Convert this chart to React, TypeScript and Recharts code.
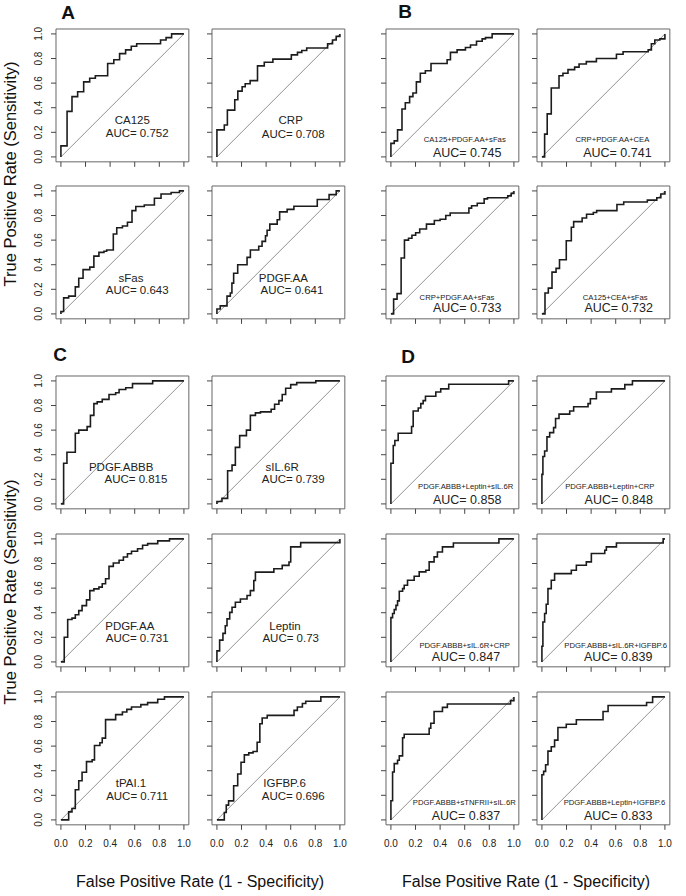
import React from 'react'
import {
  LineChart,
  Line,
  XAxis,
  YAxis,
  ReferenceLine,
  ReferenceArea,
  ReferenceDot
} from 'recharts'

type Pt = [number, number]

// ROC corners: [fpr, tpr reached at that fpr]
const rocCA125: Pt[] = [[0, 0], [0, 0.09], [0.05, 0.37], [0.09, 0.49], [0.136, 0.53], [0.185, 0.61], [0.234, 0.64], [0.28, 0.66], [0.38, 0.76], [0.43, 0.79], [0.477, 0.84], [0.526, 0.87], [0.572, 0.9], [0.616, 0.92], [0.81, 0.95], [0.855, 0.97], [0.9, 1], [1, 1]]
const rocCRP: Pt[] = [[0, 0], [0, 0.22], [0.06, 0.26], [0.085, 0.38], [0.145, 0.465], [0.17, 0.535], [0.205, 0.57], [0.23, 0.595], [0.27, 0.62], [0.33, 0.74], [0.385, 0.77], [0.455, 0.795], [0.605, 0.83], [0.655, 0.85], [0.69, 0.865], [0.73, 0.885], [0.9, 0.92], [0.94, 0.95], [0.97, 0.98], [1, 1]]
const rocSFas: Pt[] = [[0, 0], [0, 0.02], [0.022, 0.13], [0.063, 0.145], [0.117, 0.22], [0.145, 0.29], [0.18, 0.36], [0.235, 0.38], [0.268, 0.47], [0.309, 0.5], [0.35, 0.51], [0.372, 0.52], [0.426, 0.65], [0.454, 0.7], [0.5, 0.715], [0.541, 0.745], [0.578, 0.84], [0.609, 0.873], [0.678, 0.886], [0.76, 0.94], [0.814, 0.975], [0.896, 0.987], [0.964, 1], [1, 1]]
const rocPdgfAA_A: Pt[] = [[0, 0], [0, 0.04], [0.027, 0.065], [0.082, 0.145], [0.109, 0.17], [0.122, 0.25], [0.136, 0.33], [0.169, 0.4], [0.245, 0.46], [0.272, 0.52], [0.34, 0.55], [0.367, 0.59], [0.395, 0.635], [0.408, 0.68], [0.43, 0.73], [0.49, 0.765], [0.51, 0.83], [0.571, 0.85], [0.626, 0.875], [0.816, 0.93], [0.912, 0.97], [0.97, 1], [1, 1]]

const rocB1: Pt[] = [[0, 0], [0, 0.11], [0.027, 0.13], [0.054, 0.22], [0.09, 0.39], [0.117, 0.44], [0.152, 0.49], [0.179, 0.52], [0.207, 0.61], [0.239, 0.68], [0.28, 0.7], [0.326, 0.76], [0.457, 0.79], [0.484, 0.85], [0.538, 0.87], [0.606, 0.89], [0.647, 0.91], [0.696, 0.94], [0.742, 0.96], [0.769, 0.97], [0.823, 1], [1, 1]]
const rocB2: Pt[] = [[0, 0], [0.022, 0.185], [0.043, 0.35], [0.076, 0.56], [0.139, 0.66], [0.171, 0.68], [0.212, 0.71], [0.266, 0.73], [0.302, 0.755], [0.361, 0.775], [0.443, 0.8], [0.606, 0.835], [0.66, 0.855], [0.864, 0.87], [0.89, 0.92], [0.918, 0.95], [0.959, 0.96], [1, 1]]
const rocB3: Pt[] = [[0, 0], [0.022, 0.12], [0.05, 0.165], [0.083, 0.455], [0.11, 0.6], [0.143, 0.615], [0.171, 0.64], [0.201, 0.66], [0.234, 0.69], [0.289, 0.73], [0.353, 0.76], [0.4, 0.77], [0.446, 0.8], [0.482, 0.82], [0.634, 0.86], [0.656, 0.88], [0.702, 0.9], [0.758, 0.935], [0.785, 0.945], [0.95, 0.96], [0.978, 0.98], [1, 1]]
const rocB4: Pt[] = [[0, 0], [0.025, 0.17], [0.052, 0.21], [0.082, 0.34], [0.115, 0.37], [0.143, 0.44], [0.198, 0.595], [0.239, 0.705], [0.258, 0.75], [0.327, 0.78], [0.363, 0.81], [0.418, 0.825], [0.445, 0.84], [0.61, 0.89], [0.665, 0.91], [0.857, 0.925], [0.934, 0.945], [0.967, 0.975], [1, 1]]

const rocPdgfABBB: Pt[] = [[0, 0], [0.022, 0.33], [0.049, 0.42], [0.117, 0.574], [0.145, 0.6], [0.213, 0.628], [0.24, 0.72], [0.268, 0.815], [0.295, 0.83], [0.336, 0.85], [0.391, 0.89], [0.445, 0.904], [0.473, 0.93], [0.527, 0.945], [0.582, 0.978], [0.746, 1], [1, 1]]
const rocSIL6R: Pt[] = [[0, 0], [0, 0.02], [0.041, 0.045], [0.087, 0.27], [0.123, 0.315], [0.15, 0.46], [0.185, 0.555], [0.24, 0.6], [0.272, 0.72], [0.313, 0.74], [0.354, 0.748], [0.441, 0.77], [0.469, 0.81], [0.504, 0.84], [0.531, 0.89], [0.559, 0.94], [0.6, 0.97], [0.649, 0.986], [0.804, 1], [1, 1]]
const rocPdgfAA_C: Pt[] = [[0, 0], [0.027, 0.2], [0.055, 0.345], [0.09, 0.356], [0.117, 0.384], [0.145, 0.417], [0.172, 0.458], [0.208, 0.504], [0.235, 0.58], [0.268, 0.594], [0.309, 0.608], [0.336, 0.635], [0.363, 0.676], [0.391, 0.777], [0.426, 0.804], [0.473, 0.826], [0.508, 0.853], [0.541, 0.88], [0.574, 0.9], [0.623, 0.92], [0.664, 0.948], [0.705, 0.962], [0.787, 0.984], [0.883, 1], [1, 1]]
const rocLeptin: Pt[] = [[0, 0], [0, 0.09], [0.022, 0.177], [0.049, 0.232], [0.068, 0.294], [0.082, 0.35], [0.104, 0.403], [0.123, 0.444], [0.15, 0.485], [0.191, 0.512], [0.245, 0.54], [0.272, 0.58], [0.3, 0.662], [0.313, 0.73], [0.463, 0.757], [0.531, 0.785], [0.586, 0.812], [0.6, 0.935], [0.681, 0.97], [1, 1]]
const rocTPAI1: Pt[] = [[0, 0], [0.063, 0.065], [0.09, 0.093], [0.117, 0.245], [0.145, 0.319], [0.172, 0.387], [0.208, 0.474], [0.254, 0.488], [0.273, 0.605], [0.317, 0.627], [0.336, 0.665], [0.363, 0.815], [0.445, 0.856], [0.5, 0.877], [0.536, 0.899], [0.574, 0.918], [0.65, 0.937], [0.705, 0.954], [0.787, 0.981], [0.842, 1], [1, 1]]
const rocIGFBP6: Pt[] = [[0, 0], [0.06, 0.06], [0.076, 0.12], [0.095, 0.155], [0.136, 0.278], [0.169, 0.373], [0.196, 0.469], [0.223, 0.529], [0.259, 0.545], [0.294, 0.556], [0.327, 0.632], [0.349, 0.782], [0.368, 0.828], [0.409, 0.85], [0.627, 0.891], [0.654, 0.918], [0.695, 0.946], [0.722, 0.965], [0.845, 1], [1, 1]]

const rocD1: Pt[] = [[0, 0], [0, 0.33], [0.019, 0.475], [0.032, 0.515], [0.059, 0.575], [0.168, 0.63], [0.181, 0.755], [0.222, 0.78], [0.243, 0.815], [0.262, 0.84], [0.281, 0.875], [0.365, 0.91], [0.405, 0.935], [0.47, 0.973], [0.957, 1], [1, 1]]
const rocD2: Pt[] = [[0, 0], [0, 0.24], [0.008, 0.385], [0.022, 0.43], [0.041, 0.545], [0.063, 0.58], [0.095, 0.62], [0.111, 0.695], [0.139, 0.73], [0.226, 0.755], [0.258, 0.79], [0.375, 0.815], [0.394, 0.855], [0.443, 0.91], [0.565, 0.935], [0.674, 0.97], [0.736, 1], [1, 1]]
const rocD3: Pt[] = [[0, 0], [0, 0.36], [0.0135, 0.393], [0.027, 0.425], [0.041, 0.46], [0.054, 0.496], [0.068, 0.575], [0.095, 0.596], [0.108, 0.623], [0.135, 0.664], [0.189, 0.696], [0.23, 0.732], [0.284, 0.745], [0.311, 0.813], [0.351, 0.854], [0.378, 0.894], [0.419, 0.935], [0.508, 0.967], [0.878, 1], [1, 1]]
const rocD4: Pt[] = [[0, 0], [0, 0.127], [0.008, 0.325], [0.022, 0.393], [0.035, 0.469], [0.049, 0.596], [0.076, 0.664], [0.103, 0.718], [0.239, 0.745], [0.28, 0.786], [0.361, 0.813], [0.402, 0.881], [0.511, 0.908], [0.524, 0.935], [0.606, 0.967], [0.986, 1], [1, 1]]
const rocD5: Pt[] = [[0, 0], [0, 0.156], [0.0135, 0.389], [0.027, 0.458], [0.054, 0.485], [0.068, 0.521], [0.095, 0.668], [0.108, 0.696], [0.311, 0.745], [0.324, 0.786], [0.351, 0.882], [0.419, 0.915], [0.459, 0.942], [0.973, 0.97], [1, 1]]
const rocD6: Pt[] = [[0, 0], [0, 0.367], [0.014, 0.395], [0.03, 0.449], [0.049, 0.559], [0.076, 0.595], [0.103, 0.649], [0.13, 0.751], [0.198, 0.778], [0.28, 0.814], [0.497, 0.882], [0.538, 0.93], [0.851, 0.955], [0.9, 1], [1, 1]]

const TICKS = [0, 0.2, 0.4, 0.6, 0.8, 1]
const FONT = '"Liberation Sans", Arial, Helvetica, sans-serif'

// geometry of one small plot
const UNIT = 123
const PAD = 0.04
const BOX = UNIT * (1 + 2 * PAD)
const Y_W = 30
const X_H = 26
const TOP = 2
const RIGHT = 2

// pixel where fpr=0 / tpr=1 sits for each column and row
const COL_X = [61, 217, 391, 542]
const ROW_Y = [34, 191, 381, 539, 697]

interface PlotSpec {
  name: string
  auc: string
  roc: Pt[]
  col: number
  row: number
  namePos: Pt
  aucPos: Pt
  combo?: boolean
}

const plots: PlotSpec[] = [
  { name: 'CA125', auc: '0.752', roc: rocCA125, col: 0, row: 0, namePos: [0.58, 0.3], aucPos: [0.62, 0.195] },
  { name: 'CRP', auc: '0.708', roc: rocCRP, col: 1, row: 0, namePos: [0.6, 0.3], aucPos: [0.62, 0.19] },
  { name: 'sFas', auc: '0.643', roc: rocSFas, col: 0, row: 1, namePos: [0.57, 0.29], aucPos: [0.62, 0.195] },
  { name: 'PDGF.AA', auc: '0.641', roc: rocPdgfAA_A, col: 1, row: 1, namePos: [0.54, 0.29], aucPos: [0.61, 0.195] },

  { name: 'CA125+PDGF.AA+sFas', auc: '0.745', roc: rocB1, col: 2, row: 0, namePos: [0.6, 0.145], aucPos: [0.62, 0.035], combo: true },
  { name: 'CRP+PDGF.AA+CEA', auc: '0.741', roc: rocB2, col: 3, row: 0, namePos: [0.573, 0.145], aucPos: [0.614, 0.035], combo: true },
  { name: 'CRP+PDGF.AA+sFas', auc: '0.733', roc: rocB3, col: 2, row: 1, namePos: [0.537, 0.132], aucPos: [0.62, 0.044], combo: true },
  { name: 'CA125+CEA+sFas', auc: '0.732', roc: rocB4, col: 3, row: 1, namePos: [0.596, 0.132], aucPos: [0.624, 0.044], combo: true },

  { name: 'PDGF.ABBB', auc: '0.815', roc: rocPdgfABBB, col: 0, row: 2, namePos: [0.49, 0.3], aucPos: [0.61, 0.2] },
  { name: 'sIL.6R', auc: '0.739', roc: rocSIL6R, col: 1, row: 2, namePos: [0.53, 0.3], aucPos: [0.62, 0.2] },
  { name: 'PDGF.AA', auc: '0.731', roc: rocPdgfAA_C, col: 0, row: 3, namePos: [0.56, 0.295], aucPos: [0.62, 0.193] },
  { name: 'Leptin', auc: '0.73', roc: rocLeptin, col: 1, row: 3, namePos: [0.553, 0.295], aucPos: [0.6, 0.193] },
  { name: 'tPAI.1', auc: '0.711', roc: rocTPAI1, col: 0, row: 4, namePos: [0.57, 0.297], aucPos: [0.62, 0.196] },
  { name: 'IGFBP.6', auc: '0.696', roc: rocIGFBP6, col: 1, row: 4, namePos: [0.55, 0.297], aucPos: [0.62, 0.196] },

  { name: 'PDGF.ABBB+Leptin+sIL.6R', auc: '0.858', roc: rocD1, col: 2, row: 2, namePos: [0.608, 0.144], aucPos: [0.62, 0.035], combo: true },
  { name: 'PDGF.ABBB+Leptin+CRP', auc: '0.848', roc: rocD2, col: 3, row: 2, namePos: [0.552, 0.144], aucPos: [0.625, 0.035], combo: true },
  { name: 'PDGF.ABBB+sIL.6R+CRP', auc: '0.847', roc: rocD3, col: 2, row: 3, namePos: [0.6, 0.135], aucPos: [0.61, 0.04], combo: true },
  { name: 'PDGF.ABBB+sIL.6R+IGFBP.6', auc: '0.839', roc: rocD4, col: 3, row: 3, namePos: [0.6, 0.135], aucPos: [0.62, 0.04], combo: true },
  { name: 'PDGF.ABBB+sTNFRII+sIL.6R', auc: '0.837', roc: rocD5, col: 2, row: 4, namePos: [0.597, 0.142], aucPos: [0.61, 0.033], combo: true },
  { name: 'PDGF.ABBB+Leptin+IGFBP.6', auc: '0.833', roc: rocD6, col: 3, row: 4, namePos: [0.59, 0.142], aucPos: [0.62, 0.033], combo: true }
]

const fmt = (v: number) => v.toFixed(1)

const YTick = ({ x, y, payload }: any) => {
  const tx = x - 7
  return (
    <text x={tx} y={y} transform={`rotate(-90 ${tx} ${y})`} textAnchor="middle" fontSize={10} fill="#222">
      {fmt(payload.value)}
    </text>
  )
}

const XTick = ({ x, y, payload }: any) => (
  <text x={x} y={y + 15} textAnchor="middle" fontSize={10} fill="#222">
    {fmt(payload.value)}
  </text>
)

const NoTick = () => <g />

function RocPlot({ p }: { p: PlotSpec }) {
  const data = p.roc.map(([x, y]) => ({ x, y }))
  const w = Y_W + BOX + RIGHT
  const h = TOP + BOX + X_H
  const left = COL_X[p.col] - PAD * UNIT - Y_W
  const top = ROW_Y[p.row] - PAD * UNIT - TOP
  const showY = p.col === 0
  const showX = p.row === 4
  const nameSize = p.combo ? 7.7 : 11.5
  const aucSize = p.combo ? 12.5 : 11.5

  return (
    <div style={{ position: 'absolute', left, top, width: w, height: h }}>
      <LineChart width={w} height={h} data={data} margin={{ top: TOP, right: RIGHT, left: 0, bottom: 0 }}>
        <XAxis
          type="number"
          dataKey="x"
          domain={[-PAD, 1 + PAD]}
          ticks={TICKS}
          interval={0}
          allowDataOverflow
          height={X_H}
          axisLine={false}
          tickSize={5}
          tickLine={{ stroke: '#444' }}
          tick={showX ? XTick : NoTick}
        />
        <YAxis
          type="number"
          domain={[-PAD, 1 + PAD]}
          ticks={TICKS}
          interval={0}
          allowDataOverflow
          width={Y_W}
          axisLine={false}
          tickSize={5}
          tickLine={{ stroke: '#444' }}
          tick={showY ? YTick : NoTick}
        />
        <ReferenceArea
          x1={-PAD}
          x2={1 + PAD}
          y1={-PAD}
          y2={1 + PAD}
          fill="none"
          fillOpacity={0}
          stroke="#666"
          strokeWidth={1}
          ifOverflow="visible"
        />
        <ReferenceLine segment={[{ x: 0, y: 0 }, { x: 1, y: 1 }]} stroke="#777" strokeWidth={0.8} />
        <Line
          type="stepAfter"
          dataKey="y"
          stroke="#1c1c1c"
          strokeWidth={1.6}
          dot={false}
          isAnimationActive={false}
        />
        <ReferenceDot
          x={p.namePos[0]}
          y={p.namePos[1]}
          r={0}
          shape={(s: any) => (
            <text x={s.cx} y={s.cy} textAnchor="middle" dominantBaseline="central" fontSize={nameSize} fill="#222">
              {p.name}
            </text>
          )}
        />
        <ReferenceDot
          x={p.aucPos[0]}
          y={p.aucPos[1]}
          r={0}
          shape={(s: any) => (
            <text x={s.cx} y={s.cy} textAnchor="middle" dominantBaseline="central" fontSize={aucSize} fill="#222">
              {`AUC= ${p.auc}`}
            </text>
          )}
        />
      </LineChart>
    </div>
  )
}

const letters = [
  { t: 'A', x: 68, y: 13 },
  { t: 'B', x: 405, y: 12 },
  { t: 'C', x: 60, y: 355 },
  { t: 'D', x: 408, y: 357 }
]

const yTitles = [174, 592]
const xTitles = [200, 526]

export default function App() {
  return (
    <div
      style={{
        position: 'absolute',
        left: 0,
        top: 0,
        width: 686,
        height: 896,
        background: '#fff',
        fontFamily: FONT,
        color: '#111',
        overflow: 'hidden'
      }}
    >
      {plots.map((p, i) => (
        <RocPlot key={i} p={p} />
      ))}
      {letters.map(l => (
        <div
          key={l.t}
          style={{
            position: 'absolute',
            left: l.x - 15,
            top: l.y - 12,
            width: 30,
            height: 24,
            lineHeight: '24px',
            textAlign: 'center',
            fontSize: 19,
            fontWeight: 'bold'
          }}
        >
          {l.t}
        </div>
      ))}
      {yTitles.map((cy, i) => (
        <div
          key={'y' + i}
          style={{
            position: 'absolute',
            left: 10 - 160,
            top: cy - 10,
            width: 320,
            height: 20,
            lineHeight: '20px',
            textAlign: 'center',
            fontSize: 16.5,
            transform: 'rotate(-90deg)',
            whiteSpace: 'nowrap'
          }}
        >
          True Positive Rate (Sensitivity)
        </div>
      ))}
      {xTitles.map((cx, i) => (
        <div
          key={'x' + i}
          style={{
            position: 'absolute',
            left: cx - 160,
            top: 872,
            width: 320,
            height: 20,
            lineHeight: '20px',
            textAlign: 'center',
            fontSize: 16,
            whiteSpace: 'nowrap'
          }}
        >
          False Positive Rate (1 - Specificity)
        </div>
      ))}
    </div>
  )
}
